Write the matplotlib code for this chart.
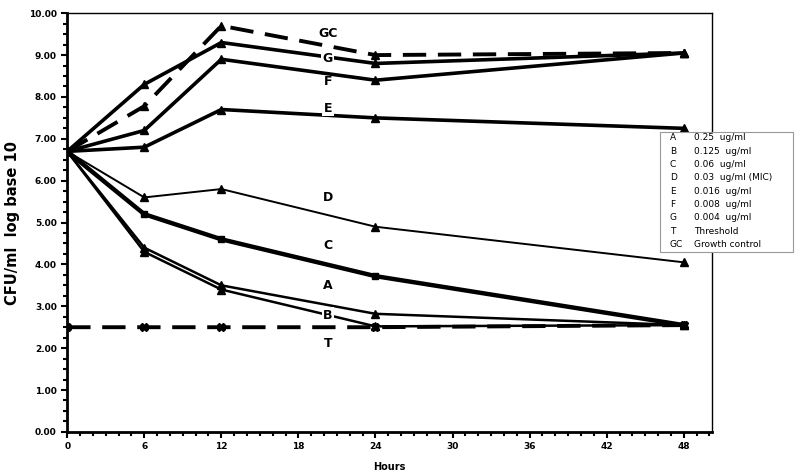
import numpy as np
import matplotlib.pyplot as plt
from matplotlib.ticker import MultipleLocator, FormatStrFormatter

hours = [0, 6, 12, 24, 48]

gc = [6.7, 7.78, 9.7, 9.0, 9.05]
g = [6.7, 8.3, 9.3, 8.8, 9.05]
f = [6.7, 7.2, 8.9, 8.4, 9.05]
e = [6.7, 6.8, 7.7, 7.5, 7.25]
d = [6.7, 5.6, 5.8, 4.9, 4.05]
c = [6.7, 5.2, 4.6, 3.72, 2.55]
a = [6.7, 4.4, 3.5, 2.82, 2.55]
b = [6.7, 4.3, 3.4, 2.52, 2.55]
t = [2.5, 2.5, 2.5, 2.5, 2.55]

legend_keys = ['A', 'B', 'C', 'D', 'E', 'F', 'G', 'T', 'GC']
legend_text = ['0.25  ug/ml', '0.125  ug/ml', '0.06  ug/ml', '0.03  ug/ml (MIC)',
               '0.016  ug/ml', '0.008  ug/ml', '0.004  ug/ml', 'Threshold', 'Growth control']

fig = plt.figure(figsize=(8, 4.72), dpi=100)
ax = fig.add_axes([0.084, 0.085, 0.806, 0.887])

k = 'black'
ax.plot(hours, gc, color=k, lw=2.8, ls=(0, (6, 3)), marker='^', ms=6)
ax.plot(hours, g, color=k, lw=2.6, marker='^', ms=6)
ax.plot(hours, f, color=k, lw=2.6, marker='^', ms=6)
ax.plot(hours, e, color=k, lw=2.6, marker='^', ms=6)
ax.plot(hours, d, color=k, lw=1.4, marker='^', ms=6)
ax.plot(hours, c, color=k, lw=3.2, marker='s', ms=5)
ax.plot(hours, a, color=k, lw=1.8, marker='^', ms=6)
ax.plot(hours, b, color=k, lw=1.8, marker='^', ms=6)
ax.plot(hours, t, color=k, lw=2.8, ls=(0, (6, 3)), marker='X', ms=6)

# curve labels
lab_pos = {'GC': 9.52, 'G': 8.92, 'F': 8.36, 'E': 7.73, 'D': 5.6,
           'C': 4.44, 'A': 3.5, 'B': 2.79, 'T': 2.1}
for name, yv in lab_pos.items():
    bg = 'white' if name in ('G', 'E', 'B') else 'none'
    ax.text(20.3, yv, name, ha='center', va='center', fontsize=9, fontweight='bold',
            bbox=dict(facecolor=bg, edgecolor='none', pad=1))

ax.set_xlim(0, 50.2)
ax.set_ylim(0, 10)
ax.xaxis.set_major_locator(MultipleLocator(6))
ax.xaxis.set_minor_locator(MultipleLocator(1))
ax.yaxis.set_major_locator(MultipleLocator(1))
ax.yaxis.set_minor_locator(MultipleLocator(0.25))
ax.yaxis.set_major_formatter(FormatStrFormatter('%.2f'))
ax.tick_params(which='major', length=4, width=1.5, labelsize=6.5)
ax.tick_params(which='minor', length=3, width=1.5)
for lbl in ax.get_xticklabels() + ax.get_yticklabels():
    lbl.set_fontweight('bold')

for s in ['left', 'bottom']:
    ax.spines[s].set_linewidth(2)
for s in ['top', 'right']:
    ax.spines[s].set_linewidth(1)

ax.set_ylabel('CFU/ml  log base 10', fontsize=10.5, fontweight='bold')
ax.yaxis.set_label_coords(-0.073, 0.5)
ax.set_xlabel('Hours', fontsize=7, fontweight='bold')
ax.xaxis.set_label_coords(0.5, -0.072)

# legend box
lx0, ly0, lw_, lh = 660 / 800, 1 - 252 / 472, 133 / 800, 120 / 472
box = plt.Rectangle((lx0, ly0), lw_, lh, transform=fig.transFigure,
                    facecolor='white', edgecolor='#999999', lw=0.8)
fig.patches.append(box)
for i, (kk, tt) in enumerate(zip(legend_keys, legend_text)):
    yy = 1 - (138 + i * 13.3) / 472
    fig.text(670 / 800, yy, kk, ha='left', va='center', fontsize=6.5)
    fig.text(694 / 800, yy, tt, ha='left', va='center', fontsize=6.5)

fig.savefig('out.png', dpi=100)
